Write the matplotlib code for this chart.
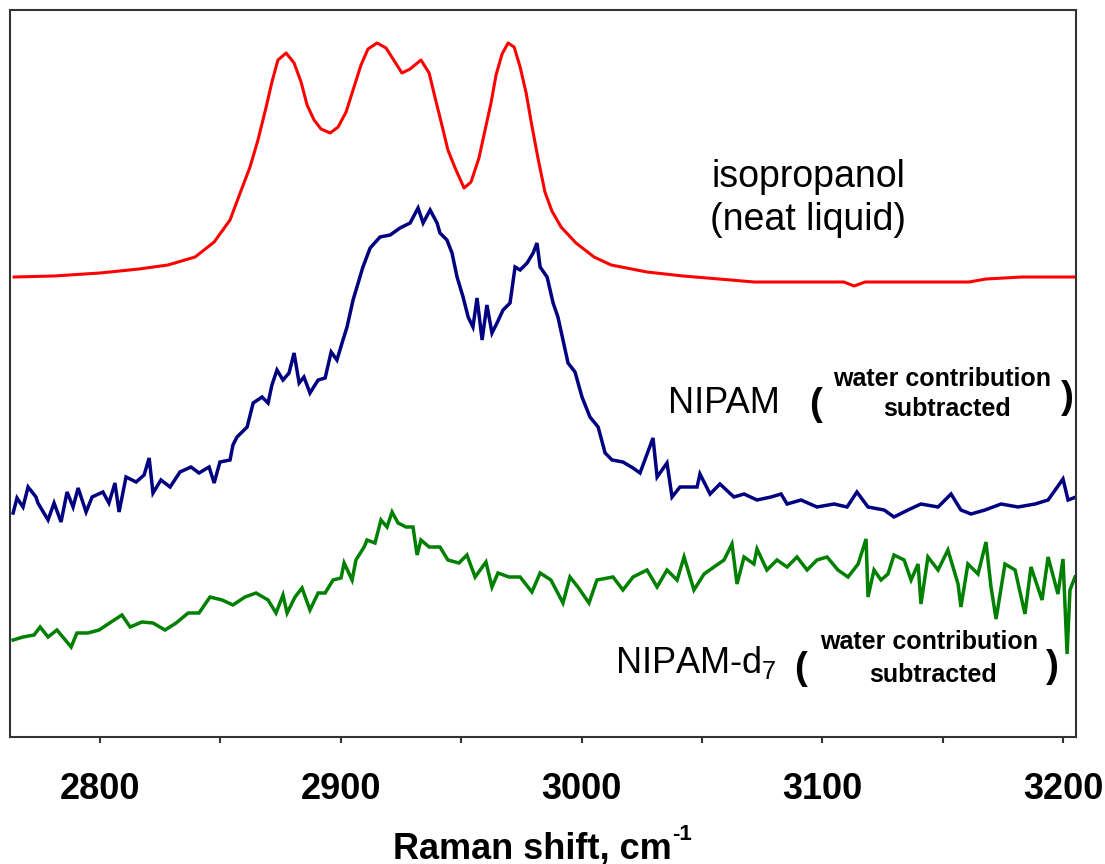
import matplotlib
matplotlib.use('Agg')
import matplotlib.pyplot as plt
from matplotlib.ticker import MultipleLocator

plt.rcParams['font.family'] = ['Liberation Sans', 'DejaVu Sans']
plt.rcParams['mathtext.fontset'] = 'custom'
plt.rcParams['mathtext.rm'] = 'Liberation Sans'
plt.rcParams['mathtext.bf'] = 'Liberation Sans:bold'

# isopropanol (neat liquid), red trace
iso_x = [2764.3, 2780.9, 2800.0, 2816.2, 2828.2, 2839.5, 2847.4, 2854.0, 2858.2, 2862.3,
         2865.6, 2869.0, 2871.4, 2873.9, 2877.3, 2880.6, 2883.5, 2886.0, 2888.9, 2891.8,
         2895.6, 2898.9, 2902.2, 2905.1, 2908.4, 2911.3, 2915.1, 2918.8, 2922.5, 2925.4,
         2928.8, 2933.3, 2936.7, 2939.2, 2942.1, 2944.5, 2947.5, 2951.2, 2954.1, 2957.4,
         2960.3, 2962.4, 2964.5, 2967.0, 2969.5, 2972.0, 2974.5, 2977.0, 2979.4, 2981.9,
         2984.8, 2987.7, 2991.5, 2997.7, 3005.2, 3012.3, 3027.2, 3042.2, 3057.1, 3071.7,
         3109.0, 3113.2, 3117.8, 3161.0, 3168.0, 3183.0, 3205.4]
iso_y = [460, 461, 464, 468, 472, 480, 495, 517, 544, 570,
         597, 630, 655, 677, 684, 674, 655, 632, 617, 608,
         604, 610, 625, 647, 672, 688, 694, 689, 675, 664,
         668, 677, 664, 639, 611, 587, 569, 549, 555, 579,
         611, 634, 662, 683, 694, 690, 670, 644, 611, 579,
         545, 526, 510, 494, 480, 472, 465, 461, 458, 455,
         455, 451, 455, 455, 458, 460, 460]

# NIPAM (water contribution subtracted), blue trace
nipam_x = [2763.9, 2765.5, 2768.0, 2770.1, 2773.4, 2774.2, 2778.4, 2780.9, 2783.8, 2786.3,
           2788.8, 2790.9, 2794.2, 2796.7, 2801.2, 2803.7, 2806.2, 2807.9, 2810.8, 2815.0,
           2818.3, 2820.4, 2822.0, 2825.3, 2829.1, 2833.2, 2837.8, 2841.1, 2845.3, 2847.4,
           2849.8, 2854.0, 2855.2, 2856.9, 2861.1, 2863.6, 2867.3, 2869.8, 2871.4, 2873.5,
           2876.0, 2878.5, 2880.6, 2882.7, 2884.7, 2887.2, 2890.6, 2893.5, 2896.0, 2898.4,
           2900.9, 2902.6, 2905.1, 2907.2, 2909.2, 2912.2, 2916.3, 2920.5, 2924.6, 2928.8,
           2932.1, 2934.2, 2937.1, 2940.0, 2941.2, 2944.1, 2946.2, 2948.3, 2950.8, 2952.9,
           2954.9, 2956.6, 2958.7, 2960.7, 2962.8, 2964.9, 2967.4, 2970.3, 2972.4, 2974.5,
           2977.4, 2979.9, 2981.5, 2982.8, 2985.7, 2988.2, 2990.2, 2992.3, 2994.4, 2997.3,
           3000.2, 3003.5, 3006.9, 3009.8, 3012.7, 3017.2, 3021.4, 3024.3, 3029.7, 3031.4,
           3035.5, 3037.6, 3040.9, 3048.0, 3049.2, 3053.4, 3057.5, 3063.3, 3067.5, 3072.9,
           3078.7, 3082.9, 3085.4, 3091.2, 3097.8, 3104.9, 3110.3, 3114.4, 3119.0, 3125.7,
           3129.8, 3135.6, 3141.0, 3148.1, 3153.5, 3157.6, 3161.8, 3167.6, 3174.3, 3181.3,
           3188.4, 3193.8, 3200.0, 3202.1, 3205.4]
nipam_y = [224, 239, 230, 250, 240, 234, 217, 234, 215, 245,
           230, 249, 225, 240, 245, 234, 254, 225, 260, 255,
           262, 279, 244, 257, 250, 265, 270, 264, 270, 254,
           275, 277, 292, 300, 310, 334, 340, 334, 352, 367,
           357, 364, 384, 354, 360, 344, 357, 359, 385, 377,
           397, 410, 437, 454, 470, 489, 500, 502, 509, 514,
           529, 514, 527, 514, 504, 497, 484, 460, 440, 420,
           410, 439, 397, 432, 404, 414, 427, 434, 470, 467,
           474, 484, 494, 470, 460, 434, 420, 397, 374, 365,
           340, 320, 310, 284, 277, 275, 269, 264, 299, 260,
           274, 240, 250, 250, 263, 243, 253, 240, 243, 237,
           240, 243, 233, 237, 230, 233, 230, 245, 230, 227,
           220, 227, 233, 230, 243, 227, 223, 227, 233, 230,
           233, 237, 258, 237, 240]

# NIPAM-d7 (water contribution subtracted), green trace
d7_x = [2763.9, 2768.0, 2772.6, 2775.1, 2778.4, 2782.1, 2788.0, 2790.4, 2795.0, 2799.6,
        2804.6, 2809.1, 2812.5, 2817.4, 2822.0, 2827.0, 2831.6, 2836.6, 2841.1, 2845.7,
        2850.7, 2855.2, 2860.2, 2864.8, 2869.8, 2873.1, 2876.0, 2877.7, 2881.0, 2883.9,
        2887.2, 2890.6, 2893.5, 2896.8, 2900.1, 2901.4, 2904.7, 2906.3, 2909.7, 2910.9,
        2914.2, 2916.7, 2919.2, 2921.3, 2923.8, 2927.1, 2930.0, 2931.7, 2933.3, 2936.7,
        2941.2, 2944.5, 2949.1, 2952.4, 2955.8, 2960.3, 2962.8, 2965.3, 2969.9, 2974.5,
        2979.4, 2982.8, 2987.3, 2992.3, 2995.2, 2998.5, 3003.1, 3006.4, 3013.1, 3017.2,
        3021.4, 3027.2, 3031.4, 3035.5, 3039.7, 3042.6, 3046.7, 3050.9, 3055.0, 3059.2,
        3062.5, 3064.6, 3067.5, 3071.6, 3072.9, 3077.0, 3081.2, 3085.4, 3089.5, 3093.7,
        3097.8, 3102.0, 3106.5, 3110.7, 3114.9, 3118.2, 3119.0, 3121.5, 3124.4, 3127.3,
        3129.8, 3134.0, 3136.9, 3139.8, 3141.0, 3143.9, 3148.1, 3152.2, 3156.4, 3157.6,
        3160.5, 3164.7, 3168.0, 3170.1, 3172.2, 3175.9, 3180.1, 3184.2, 3186.7, 3191.3,
        3193.8, 3197.9, 3200.0, 3201.7, 3202.9, 3205.0]
d7_y = [97, 100, 102, 110, 100, 107, 90, 104, 104, 107,
        115, 122, 110, 115, 114, 107, 114, 124, 124, 140,
        137, 132, 140, 144, 137, 124, 142, 124, 140, 149,
        127, 144, 144, 157, 159, 174, 157, 177, 190, 197,
        194, 217, 210, 225, 214, 210, 210, 182, 197, 190,
        190, 177, 174, 182, 160, 175, 150, 164, 160, 160,
        145, 164, 157, 134, 160, 150, 134, 157, 160, 147,
        160, 167, 150, 167, 157, 180, 147, 163, 170, 177,
        193, 153, 180, 173, 188, 167, 177, 170, 180, 167,
        177, 180, 167, 160, 173, 198, 140, 167, 157, 163,
        182, 177, 157, 173, 133, 180, 167, 187, 153, 130,
        173, 163, 195, 150, 118, 173, 167, 123, 170, 137,
        180, 143, 178, 83, 147, 160]

fig = plt.figure(figsize=(11.05, 8.64), dpi=100)
ax = fig.add_axes([10 / 1105, 1 - 737 / 864, 1066 / 1105, 727 / 864])

ax.plot(iso_x, iso_y, color='#ff0000', lw=2.2, solid_joinstyle='round')
ax.plot(nipam_x, nipam_y, color='#000080', lw=2.5, solid_joinstyle='miter')
ax.plot(d7_x, d7_y, color='#008000', lw=2.5, solid_joinstyle='miter')

ax.set_xlim(2762.6, 3205.4)
ax.set_ylim(0, 727)
ax.set_yticks([])
ax.xaxis.set_major_locator(MultipleLocator(100))
ax.xaxis.set_minor_locator(MultipleLocator(50))
ax.tick_params(axis='x', which='both', direction='out', length=4.5, width=1.5,
               color='#333333', labelsize=26, pad=21)
for lab in ax.get_xticklabels():
    lab.set_fontweight('bold')
for sp in ax.spines.values():
    sp.set_color('#333333')
    sp.set_linewidth(1.5)

# axis title with a small raised "-1"
xl = fig.text(532 / 1105, 6 / 864, 'Raman shift, cm', ha='center',
              va='baseline', fontsize=26, fontweight='bold')
fig.canvas.draw()
bb = xl.get_window_extent()
fig.text((bb.x1 + 1) / 1105, 24 / 864, '-1', ha='left', va='baseline',
         fontsize=16, fontweight='bold')

# labels
ax.text(3094.1, 550, 'isopropanol', ha='center', va='baseline', fontsize=27)
ax.text(3094.1, 507, '(neat liquid)', ha='center', va='baseline', fontsize=27)

ax.text(3035.9, 324, 'NIPAM', ha='left', va='baseline', fontsize=26)
ax.text(3097.4, 332, '(', ha='center', va='center', fontsize=28, fontweight='bold')
ax.text(3149.7, 351, 'water contribution', ha='center', va='baseline', fontsize=18, fontweight='bold')
ax.text(3151.8, 321, 'subtracted', ha='center', va='baseline', fontsize=18, fontweight='bold')
ax.text(3201.7, 339, ')', ha='center', va='center', fontsize=28, fontweight='bold')

ax.text(3013.9, 64, r'NIPAM-d$_7$', ha='left', va='baseline', fontsize=26)
ax.text(3090.8, 68, '(', ha='center', va='center', fontsize=28, fontweight='bold')
ax.text(3144.3, 88, 'water contribution', ha='center', va='baseline', fontsize=18, fontweight='bold')
ax.text(3146.0, 55, 'subtracted', ha='center', va='baseline', fontsize=18, fontweight='bold')
ax.text(3195.4, 70, ')', ha='center', va='center', fontsize=28, fontweight='bold')

fig.savefig('out.png', dpi=100)
